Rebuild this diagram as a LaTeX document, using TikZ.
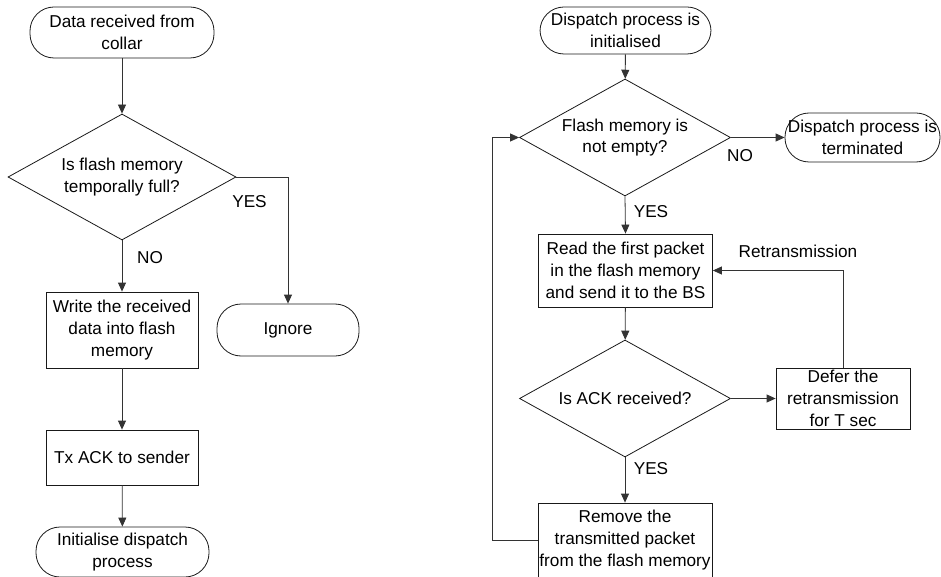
\documentclass[tikz,border=0pt]{standalone}
\usepackage{fontspec}
\setmainfont{Liberation Sans}
\usetikzlibrary{shapes.geometric,arrows.meta}
\begin{document}
\begin{tikzpicture}[x=1pt,y=-1pt,
  every node/.style={font=\fontsize{17.2}{21.7}\selectfont, text=black},
  term/.style={draw=black!90, line width=0.8pt, rounded corners=24pt, align=center, inner sep=0pt},
  proc/.style={draw=black!90, line width=0.8pt, align=center, inner sep=0pt},
  decide/.style={draw=black!90, line width=0.8pt, shape=diamond, aspect=1.8, align=center, inner sep=0pt},
  conn/.style={draw=black!80, line width=0.8pt, -{Triangle[length=9pt,width=8pt]}},
  lbl/.style={inner sep=0pt}
]
\useasboundingbox (0,0) rectangle (941,577);

% ---------- left chart ----------
\node[term, minimum width=184pt, minimum height=51pt] (data) at (122,32.5) {Data received from\\collar};
\node[decide, minimum width=228pt, minimum height=126pt] (q1) at (122,177) {Is flash memory\\temporally full?};
\node[proc, minimum width=152pt, minimum height=76pt] (write) at (122,330) {Write the received\\data into flash\\memory};
\node[proc, minimum width=152pt, minimum height=55pt] (tx) at (122,457.5) {Tx ACK to sender};
\node[term, minimum width=173pt, minimum height=50pt] (init) at (122.5,552) {Initialise dispatch\\process};
\node[term, minimum width=142pt, minimum height=52pt] (ignore) at (288,330) {Ignore};

\draw[conn] (data) -- (q1);
\draw[conn] (q1.east) -| (ignore.north);
\draw[conn] (q1.south) -- (write.north);
\draw[conn] (write) -- (tx);
\draw[conn] (tx) -- (init);
\node[lbl] (lyes) at (249.5,202) {YES};
\node[lbl] (lno) at (150,258) {NO};

% ---------- right chart ----------
\node[term, minimum width=171pt, minimum height=47pt] (dinit) at (625.5,30.5) {Dispatch process is\\initialised};
\node[decide, minimum width=211pt, minimum height=117pt] (qe) at (625,137.5) {Flash memory is\\not empty?};
\node[term, minimum width=155pt, minimum height=49pt] (dterm) at (862.5,137.5) {Dispatch process is\\terminated};
\node[proc, minimum width=174pt, minimum height=73pt] (read) at (625.5,270.5) {Read the first packet\\in the flash memory\\and send it to the BS};
\node[decide, minimum width=211pt, minimum height=117pt] (qa) at (625,398.5) {Is ACK received?};
\node[proc, minimum width=134pt, minimum height=61pt] (defer) at (843,398.5) {Defer the\\retransmission\\for T sec};
\node[proc, minimum width=174pt, minimum height=74pt] (remove) at (625,540) {Remove the\\transmitted packet\\from the flash memory};

\draw[conn] (dinit) -- (qe);
\draw[conn] (qe.east) -- (dterm.west);
\draw[conn] (qe.south) -- (read.north);
\draw[conn] (read) -- (qa);
\draw[conn] (qa.east) -- (defer.west);
\draw[conn] (defer.north) |- (read.east);
\draw[conn] (qa.south) -- (remove.north);
\coordinate (loopx) at (492,540);
\draw[conn] (remove.west) -- (loopx) |- (qe.west);

\node[lbl] (rno) at (740,156) {NO};
\node[lbl] (ryes1) at (651,212) {YES};
\node[lbl] (ryes2) at (651,469) {YES};
\node[lbl] (retx) at (798,251) {Retransmission};
\end{tikzpicture}
\end{document}
